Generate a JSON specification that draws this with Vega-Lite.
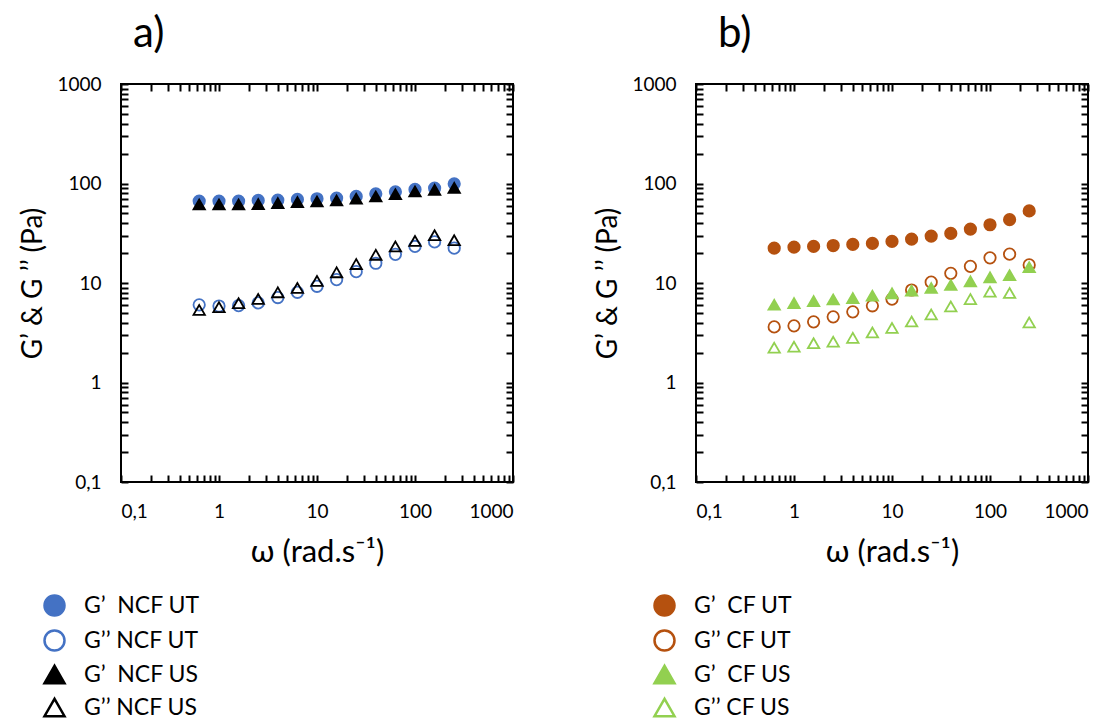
{
  "$schema": "https://vega.github.io/schema/vega-lite/v6.json",
  "background": "white",
  "padding": {"left": 18, "top": 12, "right": 5, "bottom": 5},
  "config": {
    "font": "Lato",
    "view": {"stroke": "black", "strokeWidth": 2},
    "axis": {
      "grid": false, "domain": false, "ticks": true, "tickOpacity": 1, "zindex": 2,
      "labelFont": "Lato", "labelFontSize": 19, "labelColor": "black",
      "titleFont": "Lato", "titleFontSize": 28, "titleFontWeight": "normal", "titleColor": "black",
      "tickColor": "#000000", "tickWidth": 2, "tickSize": 7, "offset": -7, "labelPadding": 20
    },
    "legend": {
      "labelFont": "Lato", "labelFontSize": 23, "labelColor": "black",
      "symbolSize": 400, "symbolStrokeWidth": 2.5, "rowPadding": 4, "labelOffset": 18, "padding": 0
    },
    "title": {"font": "Lato", "fontSize": 42, "fontWeight": "normal", "color": "black"}
  },
  "datasets": {
    "a": [
      {"series": "G’\u00a0 NCF UT", "w": 0.628, "G": 66.6},
      {"series": "G’\u00a0 NCF UT", "w": 1.0, "G": 66.6},
      {"series": "G’\u00a0 NCF UT", "w": 1.585, "G": 66.6},
      {"series": "G’\u00a0 NCF UT", "w": 2.512, "G": 67.6},
      {"series": "G’\u00a0 NCF UT", "w": 3.981, "G": 68.1},
      {"series": "G’\u00a0 NCF UT", "w": 6.31, "G": 69.2},
      {"series": "G’\u00a0 NCF UT", "w": 10.0, "G": 70.3},
      {"series": "G’\u00a0 NCF UT", "w": 15.85, "G": 71.3},
      {"series": "G’\u00a0 NCF UT", "w": 25.12, "G": 74.1},
      {"series": "G’\u00a0 NCF UT", "w": 39.81, "G": 78.8},
      {"series": "G’\u00a0 NCF UT", "w": 63.1, "G": 82.5},
      {"series": "G’\u00a0 NCF UT", "w": 100.0, "G": 87.1},
      {"series": "G’\u00a0 NCF UT", "w": 158.5, "G": 89.9},
      {"series": "G’\u00a0 NCF UT", "w": 251.2, "G": 99.2},
      {"series": "G’’ NCF UT", "w": 0.628, "G": 6.03},
      {"series": "G’’ NCF UT", "w": 1.0, "G": 5.87},
      {"series": "G’’ NCF UT", "w": 1.585, "G": 5.93},
      {"series": "G’’ NCF UT", "w": 2.512, "G": 6.31},
      {"series": "G’’ NCF UT", "w": 3.981, "G": 7.14},
      {"series": "G’’ NCF UT", "w": 6.31, "G": 8.06},
      {"series": "G’’ NCF UT", "w": 10.0, "G": 9.26},
      {"series": "G’’ NCF UT", "w": 15.85, "G": 10.8},
      {"series": "G’’ NCF UT", "w": 25.12, "G": 13.0},
      {"series": "G’’ NCF UT", "w": 39.81, "G": 15.8},
      {"series": "G’’ NCF UT", "w": 63.1, "G": 19.4},
      {"series": "G’’ NCF UT", "w": 100.0, "G": 23.3},
      {"series": "G’’ NCF UT", "w": 158.5, "G": 25.9},
      {"series": "G’’ NCF UT", "w": 251.2, "G": 22.4},
      {"series": "G’\u00a0 NCF US", "w": 0.628, "G": 61.7},
      {"series": "G’\u00a0 NCF US", "w": 1.0, "G": 61.7},
      {"series": "G’\u00a0 NCF US", "w": 1.585, "G": 61.7},
      {"series": "G’\u00a0 NCF US", "w": 2.512, "G": 62.1},
      {"series": "G’\u00a0 NCF US", "w": 3.981, "G": 63.6},
      {"series": "G’\u00a0 NCF US", "w": 6.31, "G": 65.1},
      {"series": "G’\u00a0 NCF US", "w": 10.0, "G": 66.1},
      {"series": "G’\u00a0 NCF US", "w": 15.85, "G": 67.6},
      {"series": "G’\u00a0 NCF US", "w": 25.12, "G": 70.3},
      {"series": "G’\u00a0 NCF US", "w": 39.81, "G": 74.1},
      {"series": "G’\u00a0 NCF US", "w": 63.1, "G": 78.2},
      {"series": "G’\u00a0 NCF US", "w": 100.0, "G": 83.2},
      {"series": "G’\u00a0 NCF US", "w": 158.5, "G": 86.4},
      {"series": "G’\u00a0 NCF US", "w": 251.2, "G": 90.5},
      {"series": "G’’ NCF US", "w": 0.628, "G": 5.37},
      {"series": "G’’ NCF US", "w": 1.0, "G": 5.71},
      {"series": "G’’ NCF US", "w": 1.585, "G": 6.26},
      {"series": "G’’ NCF US", "w": 2.512, "G": 6.92},
      {"series": "G’’ NCF US", "w": 3.981, "G": 8.06},
      {"series": "G’’ NCF US", "w": 6.31, "G": 8.91},
      {"series": "G’’ NCF US", "w": 10.0, "G": 10.5},
      {"series": "G’’ NCF US", "w": 15.85, "G": 12.8},
      {"series": "G’’ NCF US", "w": 25.12, "G": 15.5},
      {"series": "G’’ NCF US", "w": 39.81, "G": 19.2},
      {"series": "G’’ NCF US", "w": 63.1, "G": 23.3},
      {"series": "G’’ NCF US", "w": 100.0, "G": 26.5},
      {"series": "G’’ NCF US", "w": 158.5, "G": 30.2},
      {"series": "G’’ NCF US", "w": 251.2, "G": 26.9}
    ],
    "b": [
      {"series": "G’\u00a0 CF UT", "w": 0.628, "G": 22.4},
      {"series": "G’\u00a0 CF UT", "w": 1.0, "G": 22.9},
      {"series": "G’\u00a0 CF UT", "w": 1.585, "G": 23.3},
      {"series": "G’\u00a0 CF UT", "w": 2.512, "G": 23.8},
      {"series": "G’\u00a0 CF UT", "w": 3.981, "G": 24.4},
      {"series": "G’\u00a0 CF UT", "w": 6.31, "G": 25.0},
      {"series": "G’\u00a0 CF UT", "w": 10.0, "G": 26.2},
      {"series": "G’\u00a0 CF UT", "w": 15.85, "G": 27.6},
      {"series": "G’\u00a0 CF UT", "w": 25.12, "G": 29.6},
      {"series": "G’\u00a0 CF UT", "w": 39.81, "G": 31.5},
      {"series": "G’\u00a0 CF UT", "w": 63.1, "G": 34.8},
      {"series": "G’\u00a0 CF UT", "w": 100.0, "G": 38.5},
      {"series": "G’\u00a0 CF UT", "w": 158.5, "G": 43.3},
      {"series": "G’\u00a0 CF UT", "w": 251.2, "G": 53.0},
      {"series": "G’’ CF UT", "w": 0.628, "G": 3.62},
      {"series": "G’’ CF UT", "w": 1.0, "G": 3.71},
      {"series": "G’’ CF UT", "w": 1.585, "G": 4.07},
      {"series": "G’’ CF UT", "w": 2.512, "G": 4.57},
      {"series": "G’’ CF UT", "w": 3.981, "G": 5.13},
      {"series": "G’’ CF UT", "w": 6.31, "G": 5.9},
      {"series": "G’’ CF UT", "w": 10.0, "G": 6.89},
      {"series": "G’’ CF UT", "w": 15.85, "G": 8.5},
      {"series": "G’’ CF UT", "w": 25.12, "G": 10.2},
      {"series": "G’’ CF UT", "w": 39.81, "G": 12.5},
      {"series": "G’’ CF UT", "w": 63.1, "G": 14.7},
      {"series": "G’’ CF UT", "w": 100.0, "G": 17.9},
      {"series": "G’’ CF UT", "w": 158.5, "G": 19.5},
      {"series": "G’’ CF UT", "w": 251.2, "G": 15.2},
      {"series": "G’\u00a0 CF US", "w": 0.628, "G": 6.04},
      {"series": "G’\u00a0 CF US", "w": 1.0, "G": 6.28},
      {"series": "G’\u00a0 CF US", "w": 1.585, "G": 6.58},
      {"series": "G’\u00a0 CF US", "w": 2.512, "G": 6.84},
      {"series": "G’\u00a0 CF US", "w": 3.981, "G": 7.05},
      {"series": "G’\u00a0 CF US", "w": 6.31, "G": 7.45},
      {"series": "G’\u00a0 CF US", "w": 10.0, "G": 7.87},
      {"series": "G’\u00a0 CF US", "w": 15.85, "G": 8.37},
      {"series": "G’\u00a0 CF US", "w": 25.12, "G": 8.9},
      {"series": "G’\u00a0 CF US", "w": 39.81, "G": 9.54},
      {"series": "G’\u00a0 CF US", "w": 63.1, "G": 10.4},
      {"series": "G’\u00a0 CF US", "w": 100.0, "G": 11.4},
      {"series": "G’\u00a0 CF US", "w": 158.5, "G": 12.0},
      {"series": "G’\u00a0 CF US", "w": 251.2, "G": 14.4},
      {"series": "G’’ CF US", "w": 0.628, "G": 2.24},
      {"series": "G’’ CF US", "w": 1.0, "G": 2.29},
      {"series": "G’’ CF US", "w": 1.585, "G": 2.48},
      {"series": "G’’ CF US", "w": 2.512, "G": 2.57},
      {"series": "G’’ CF US", "w": 3.981, "G": 2.81},
      {"series": "G’’ CF US", "w": 6.31, "G": 3.18},
      {"series": "G’’ CF US", "w": 10.0, "G": 3.54},
      {"series": "G’’ CF US", "w": 15.85, "G": 4.1},
      {"series": "G’’ CF US", "w": 25.12, "G": 4.83},
      {"series": "G’’ CF US", "w": 39.81, "G": 5.81},
      {"series": "G’’ CF US", "w": 63.1, "G": 6.89},
      {"series": "G’’ CF US", "w": 100.0, "G": 8.18},
      {"series": "G’’ CF US", "w": 158.5, "G": 7.93},
      {"series": "G’’ CF US", "w": 251.2, "G": 4.01}
    ]
  },
  "bounds": "flush",
  "spacing": 183,
  "hconcat": [
    {
      "width": 392,
      "height": 398,
      "title": {"text": "a)", "anchor": "start", "frame": "group", "dx": 12, "offset": 19},
      "data": {"name": "a"},
      "layer": [
        {
          "mark": {"type": "point", "filled": false, "size": 130, "strokeWidth": 1.8, "opacity": 1},
          "encoding": {
            "x": {"field": "w", "type": "quantitative",
              "scale": {"type": "log", "domain": [0.1, 1000], "nice": false},
              "axis": {"orient": "bottom", "title": "ω (rad.s⁻¹)", "titleFontSize": 31, "titlePadding": 16,
                "values": [0.1,0.2,0.3,0.4,0.5,0.6,0.7,0.8,0.9,1,2,3,4,5,6,7,8,9,10,20,30,40,50,60,70,80,90,100,200,300,400,500,600,700,800,900,1000],
                "labelExpr": "datum.value == 0.1 ? '0,1' : (indexof([1,10,100,1000], datum.value) >= 0 ? format(datum.value, 'd') : '')"}},
            "y": {"field": "G", "type": "quantitative",
              "scale": {"type": "log", "domain": [0.1, 1000], "nice": false},
              "axis": {"orient": "left", "title": "G’ & G ’’ (Pa)", "titlePadding": 9,
                "values": [0.1,0.2,0.3,0.4,0.5,0.6,0.7,0.8,0.9,1,2,3,4,5,6,7,8,9,10,20,30,40,50,60,70,80,90,100,200,300,400,500,600,700,800,900,1000],
                "labelExpr": "datum.value == 0.1 ? '0,1' : (indexof([1,10,100,1000], datum.value) >= 0 ? format(datum.value, 'd') : '')"}},
            "shape": {"field": "series", "type": "nominal",
              "scale": {"domain": ["G’\u00a0 NCF UT", "G’’ NCF UT", "G’\u00a0 NCF US", "G’’ NCF US"], "range": ["circle", "circle", "triangle-up", "triangle-up"]},
              "legend": {"title": null, "orient": "none", "legendX": -78, "legendY": 510}},
            "stroke": {"field": "series", "type": "nominal",
              "scale": {"domain": ["G’\u00a0 NCF UT", "G’’ NCF UT", "G’\u00a0 NCF US", "G’’ NCF US"], "range": ["#4472C4", "#4472C4", "#000000", "#000000"]},
              "legend": {"title": null, "orient": "none", "legendX": -78, "legendY": 510}},
            "fill": {"field": "series", "type": "nominal",
              "scale": {"domain": ["G’\u00a0 NCF UT", "G’’ NCF UT", "G’\u00a0 NCF US", "G’’ NCF US"], "range": ["#4472C4", "transparent", "#000000", "transparent"]},
              "legend": {"title": null, "orient": "none", "legendX": -78, "legendY": 510}}
          }
        },
        {
          "mark": {"type": "point", "opacity": 0},
          "encoding": {
            "x": {"field": "w", "type": "quantitative",
              "scale": {"type": "log", "domain": [0.1, 1000], "nice": false},
              "axis": {"orient": "top", "title": null, "labels": false,
                "values": [0.1,0.2,0.3,0.4,0.5,0.6,0.7,0.8,0.9,1,2,3,4,5,6,7,8,9,10,20,30,40,50,60,70,80,90,100,200,300,400,500,600,700,800,900,1000]}},
            "y": {"field": "G", "type": "quantitative",
              "scale": {"type": "log", "domain": [0.1, 1000], "nice": false},
              "axis": {"orient": "right", "title": null, "labels": false,
                "values": [0.1,0.2,0.3,0.4,0.5,0.6,0.7,0.8,0.9,1,2,3,4,5,6,7,8,9,10,20,30,40,50,60,70,80,90,100,200,300,400,500,600,700,800,900,1000]}}
          }
        }
      ],
      "resolve": {"axis": {"x": "independent", "y": "independent"}}
    },
    {
      "width": 392,
      "height": 398,
      "title": {"text": "b)", "anchor": "start", "frame": "group", "dx": 22, "offset": 19},
      "data": {"name": "b"},
      "layer": [
        {
          "mark": {"type": "point", "filled": false, "size": 130, "strokeWidth": 1.8, "opacity": 1},
          "encoding": {
            "x": {"field": "w", "type": "quantitative",
              "scale": {"type": "log", "domain": [0.1, 1000], "nice": false},
              "axis": {"orient": "bottom", "title": "ω (rad.s⁻¹)", "titleFontSize": 31, "titlePadding": 16,
                "values": [0.1,0.2,0.3,0.4,0.5,0.6,0.7,0.8,0.9,1,2,3,4,5,6,7,8,9,10,20,30,40,50,60,70,80,90,100,200,300,400,500,600,700,800,900,1000],
                "labelExpr": "datum.value == 0.1 ? '0,1' : (indexof([1,10,100,1000], datum.value) >= 0 ? format(datum.value, 'd') : '')"}},
            "y": {"field": "G", "type": "quantitative",
              "scale": {"type": "log", "domain": [0.1, 1000], "nice": false},
              "axis": {"orient": "left", "title": "G’ & G ’’ (Pa)", "titlePadding": 9,
                "values": [0.1,0.2,0.3,0.4,0.5,0.6,0.7,0.8,0.9,1,2,3,4,5,6,7,8,9,10,20,30,40,50,60,70,80,90,100,200,300,400,500,600,700,800,900,1000],
                "labelExpr": "datum.value == 0.1 ? '0,1' : (indexof([1,10,100,1000], datum.value) >= 0 ? format(datum.value, 'd') : '')"}},
            "shape": {"field": "series", "type": "nominal",
              "scale": {"domain": ["G’\u00a0 CF UT", "G’’ CF UT", "G’\u00a0 CF US", "G’’ CF US"], "range": ["circle", "circle", "triangle-up", "triangle-up"]},
              "legend": {"title": null, "orient": "none", "legendX": -43, "legendY": 510}},
            "stroke": {"field": "series", "type": "nominal",
              "scale": {"domain": ["G’\u00a0 CF UT", "G’’ CF UT", "G’\u00a0 CF US", "G’’ CF US"], "range": ["#B5510F", "#B5510F", "#92D050", "#92D050"]},
              "legend": {"title": null, "orient": "none", "legendX": -43, "legendY": 510}},
            "fill": {"field": "series", "type": "nominal",
              "scale": {"domain": ["G’\u00a0 CF UT", "G’’ CF UT", "G’\u00a0 CF US", "G’’ CF US"], "range": ["#B5510F", "transparent", "#92D050", "transparent"]},
              "legend": {"title": null, "orient": "none", "legendX": -43, "legendY": 510}}
          }
        },
        {
          "mark": {"type": "point", "opacity": 0},
          "encoding": {
            "x": {"field": "w", "type": "quantitative",
              "scale": {"type": "log", "domain": [0.1, 1000], "nice": false},
              "axis": {"orient": "top", "title": null, "labels": false,
                "values": [0.1,0.2,0.3,0.4,0.5,0.6,0.7,0.8,0.9,1,2,3,4,5,6,7,8,9,10,20,30,40,50,60,70,80,90,100,200,300,400,500,600,700,800,900,1000]}},
            "y": {"field": "G", "type": "quantitative",
              "scale": {"type": "log", "domain": [0.1, 1000], "nice": false},
              "axis": {"orient": "right", "title": null, "labels": false,
                "values": [0.1,0.2,0.3,0.4,0.5,0.6,0.7,0.8,0.9,1,2,3,4,5,6,7,8,9,10,20,30,40,50,60,70,80,90,100,200,300,400,500,600,700,800,900,1000]}}
          }
        }
      ],
      "resolve": {"axis": {"x": "independent", "y": "independent"}}
    }
  ],
  "resolve": {"scale": {"shape": "independent", "stroke": "independent", "fill": "independent", "x": "independent", "y": "independent"}, "legend": {"shape": "independent", "stroke": "independent", "fill": "independent"}}
}
